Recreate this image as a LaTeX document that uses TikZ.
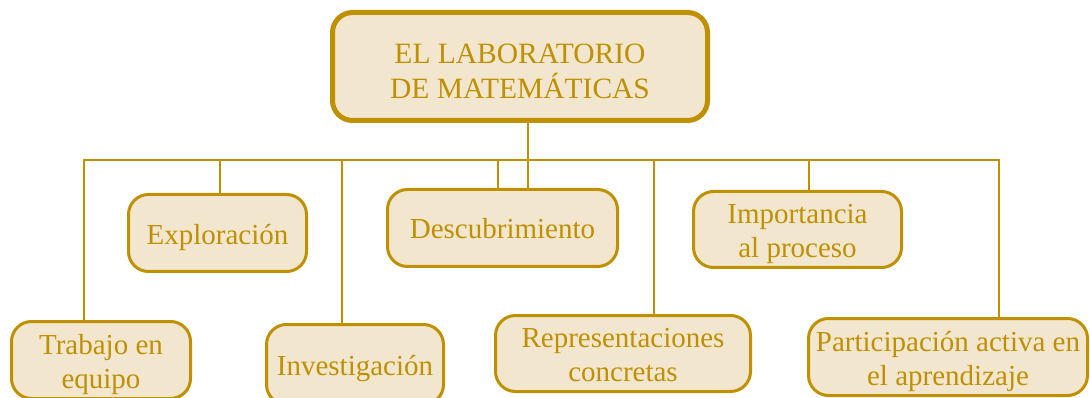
\documentclass[tikz,border=0pt]{standalone}
\usepackage{fontspec}
\setmainfont{Liberation Serif}
\definecolor{gold}{RGB}{191,144,0}
\definecolor{cream}{RGB}{242,230,207}
\newcommand\hstrut[1][31pt]{\rule{0pt}{#1}}
\begin{document}
\begin{tikzpicture}[x=1pt,y=-1pt,
  box/.style={draw=gold, fill=cream, line width=3pt, rounded corners=20pt,
    align=center, text=gold, inner sep=0pt,
    font=\fontsize{29}{34}\selectfont,
    execute at end node={\rule[-9pt]{0pt}{9pt}}},
  conn/.style={draw=gold, line width=2.8pt}]
  \useasboundingbox (0,0) rectangle (1090,398);
  % main box
  \node[box, line width=5pt, minimum width=375pt, minimum height=108pt,
    font=\fontsize{29.5}{35}\selectfont] (title) at (520,66.5)
    {\hstrut[38pt]EL LABORATORIO\\DE MATEMÁTICAS};
  % upper row
  \node[box, minimum width=178pt, minimum height=77pt] (expl) at (217.5,233) {\hstrut Exploración};
  \node[box, minimum width=230pt, minimum height=77pt] (desc) at (502.5,228) {\hstrut Descubrimiento};
  \node[box, minimum width=208pt, minimum height=76pt] (imp) at (797.5,229.5) {\hstrut Importancia\\al proceso};
  % lower row
  \node[box, minimum width=179pt, minimum height=77pt] (trab) at (101,360) {\hstrut Trabajo en\\equipo};
  \node[box, minimum width=177pt, minimum height=80pt] (inv) at (355,364.5) {\hstrut Investigación};
  \node[box, minimum width=255pt, minimum height=76pt] (rep) at (623,353.5) {\hstrut Representaciones\\concretas};
  \node[box, minimum width=279pt, minimum height=77pt] (part) at (948,357) {\hstrut Participación activa en\\el aprendizaje};
  % bus
  \coordinate (b1) at (84,160);  % trabajo
  \coordinate (b2) at (220,160); % exploracion
  \coordinate (b3) at (342,160); % investigacion
  \coordinate (b4) at (498,160); % descubrimiento
  \coordinate (b5) at (654,160); % representaciones
  \coordinate (b6) at (809,160); % importancia
  \coordinate (b7) at (999,160); % participacion
  \draw[conn] ([xshift=8pt]title.south) -- ([xshift=8pt]title.south |- desc.north);
  \draw[conn] (b1 |- trab.north) -- (b1) -- (b7) -- (b7 |- part.north);
  \draw[conn] (b2) -- (b2 |- expl.north);
  \draw[conn] (b3) -- (b3 |- inv.north);
  \draw[conn] (b4) -- (b4 |- desc.north);
  \draw[conn] (b5) -- (b5 |- rep.north);
  \draw[conn] (b6) -- (b6 |- imp.north);
\end{tikzpicture}
\end{document}
